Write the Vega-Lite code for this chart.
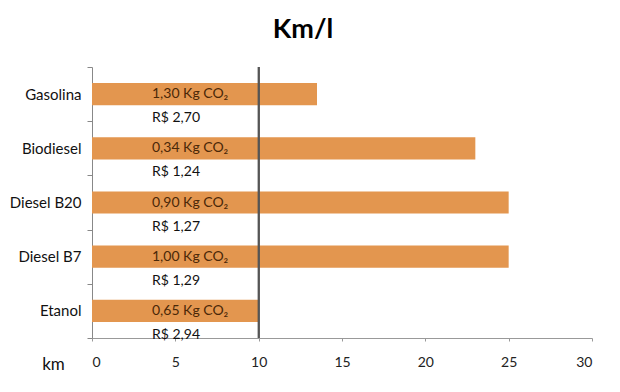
{
  "$schema": "https://vega.github.io/schema/vega-lite/v6.json",
  "width": 500,
  "height": 271,
  "autosize": "none",
  "padding": {"left": 92, "top": 67, "right": 28, "bottom": 54},
  "background": "white",
  "config": {"view": {"stroke": null}, "font": "Lato"},
  "title": {"text": "Km/l", "fontSize": 27, "fontWeight": "bold", "font": "Lato", "anchor": "middle", "frame": "group", "dx": -39, "offset": 16, "color": "#000"},
  "data": {"values": [
    {"combustivel": "Gasolina", "km": 13.5, "co2": "1,30 Kg CO₂", "preco": "R$ 2,70"},
    {"combustivel": "Biodiesel", "km": 23, "co2": "0,34 Kg CO₂", "preco": "R$ 1,24"},
    {"combustivel": "Diesel B20", "km": 25, "co2": "0,90 Kg CO₂", "preco": "R$ 1,27"},
    {"combustivel": "Diesel B7", "km": 25, "co2": "1,00 Kg CO₂", "preco": "R$ 1,29"},
    {"combustivel": "Etanol", "km": 10, "co2": "0,65 Kg CO₂", "preco": "R$ 2,94"}
  ]},
  "encoding": {
    "y": {"field": "combustivel", "type": "nominal", "sort": null,
      "scale": {"paddingInner": 0, "paddingOuter": 0},
      "axis": {"title": null, "tickBand": "extent", "tickSize": 5, "tickColor": "#888", "domainColor": "#888", "labelFontSize": 15, "labelColor": "#111", "labelPadding": 6, "labelFont": "Lato"}}
  },
  "layer": [
    {
      "mark": {"type": "bar", "color": "#E3964F", "height": {"band": 0.41}},
      "encoding": {
        "x": {"field": "km", "type": "quantitative",
          "scale": {"domain": [0, 30], "nice": false},
          "axis": {"values": [0, 5, 10, 15, 20, 25, 30], "grid": false, "title": "km", "titleAngle": 0, "titleX": -39, "titleY": 31, "titleAlign": "center", "titleBaseline": "alphabetic", "titleFontSize": 17, "titleFontWeight": "normal", "titleColor": "#111", "titleFont": "Lato", "tickSize": 3, "tickColor": "#999", "domainColor": "#999", "labelFontSize": 14, "labelColor": "#222", "labelPadding": 14, "labelFont": "Lato"}}
      }
    },
    {
      "mark": {"type": "rule", "color": "#555", "strokeWidth": 1.5},
      "encoding": {"x": {"datum": 10, "type": "quantitative"}, "y": null}
    },
    {
      "mark": {"type": "text", "align": "left", "baseline": "middle", "fontSize": 14, "color": "#4a2808", "font": "Lato"},
      "encoding": {"x": {"datum": 3.6, "type": "quantitative"}, "text": {"field": "co2"}}
    },
    {
      "mark": {"type": "text", "align": "left", "baseline": "middle", "fontSize": 14, "color": "#111", "yOffset": 24, "font": "Lato"},
      "encoding": {"x": {"datum": 3.6, "type": "quantitative"}, "text": {"field": "preco"}}
    }
  ]
}
